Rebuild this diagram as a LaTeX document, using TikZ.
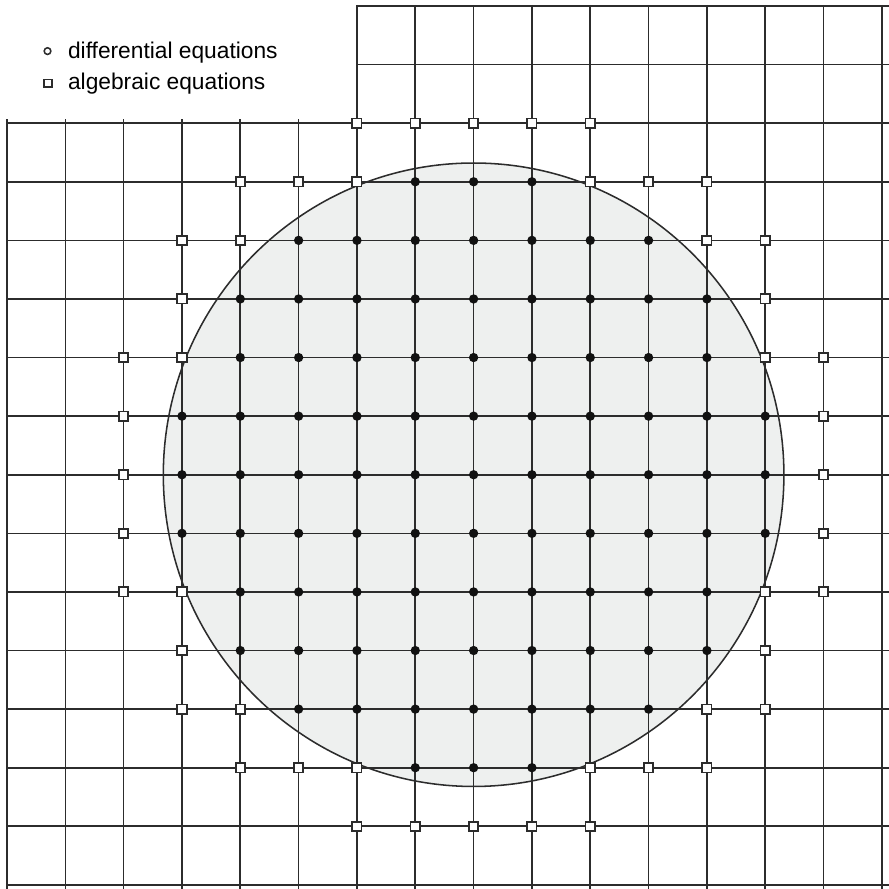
\documentclass[tikz,border=0pt]{standalone}
\usepackage{fontspec}
\setmainfont{Liberation Sans}
\usetikzlibrary{positioning}
\definecolor{trait}{HTML}{2C2C2C}
\definecolor{disque}{HTML}{EEF0EF}
\definecolor{point}{HTML}{111111}
\tikzset{
  gridline/.style={draw=trait, line width=0.8pt},
  discline/.style={draw=trait, line width=0.75pt},
  diffpt/.style={circle, fill=point, inner sep=0pt, minimum size=1.6mm},
  algpt/.style={rectangle, draw=trait, fill=white, line width=0.85pt,
    inner sep=0pt, minimum size=1.6mm},
  legdiff/.style={circle, draw=trait, fill=white, line width=0.75pt,
    inner sep=0pt, minimum size=1.15mm},
  legalg/.style={rectangle, draw=trait, fill=white, line width=0.75pt,
    inner sep=0pt, minimum size=1.35mm},
  legtext/.style={font=\fontsize{11.1}{13}\selectfont, inner sep=0pt,
    anchor=base west}
}
\begin{document}
\begin{tikzpicture}[x=1cm, y=-1.0046cm]
    \useasboundingbox (-0.12,-0.102) rectangle (15.12,15.07);

    % disc of the domain
    \fill[disque] (8,8) circle (5.32);

    % grid
    \foreach \i in {0,...,5}
      \draw[gridline] (\i,1.93) -- (\i,15.07);
    \foreach \i in {6,...,15}
      \draw[gridline] (\i,-0.02) -- (\i,15.07);
    \foreach \j in {0,1}
      \draw[gridline] (6,\j) -- (15.12,\j);
    \foreach \j in {2,...,15}
      \draw[gridline] (-0.01,\j) -- (15.12,\j);

    \draw[discline] (8,8) circle (5.32);

    % grid points: inside -> differential, border -> algebraic
    \foreach \i in {0,...,15}{
      \foreach \j in {0,...,15}{
        \pgfmathtruncatemacro\dd{(\i-8)*(\i-8)+(\j-8)*(\j-8)}
        \pgfmathtruncatemacro\nn{max(abs(\i-8)-1,0)^2+max(abs(\j-8)-1,0)^2}
        \ifnum\dd<29
          \node[diffpt] (p-\i-\j) at (\i,\j) {};
        \else\ifnum\nn<29
          \node[algpt] (p-\i-\j) at (\i,\j) {};
        \fi\fi
      }
    }

    % legend
    \node[legdiff] (ldiff) at (0.695,0.77) {};
    \node[legalg] (lalg) at (0.70,1.32) {};
    \node[legtext] (tdiff) at (1.04,0.90) {differential equations};
    \node[legtext] (talg) at (1.04,1.43) {algebraic equations};
\end{tikzpicture}
\end{document}
